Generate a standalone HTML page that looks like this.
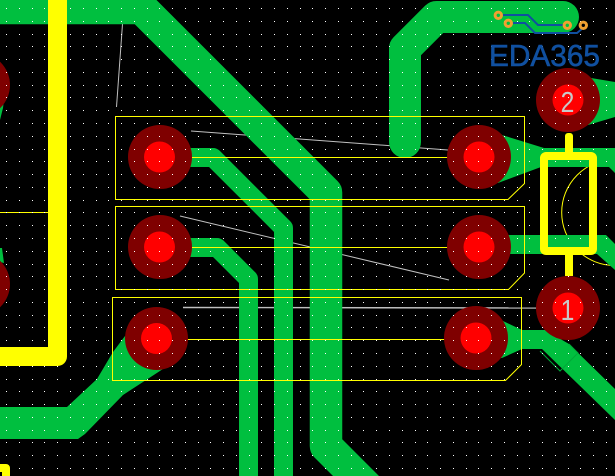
<!DOCTYPE html>
<html><head><meta charset="utf-8"><style>
html,body{margin:0;padding:0;background:#000;width:615px;height:476px;overflow:hidden}
svg{display:block}
</style></head><body>
<svg width="615" height="476" viewBox="0 0 615 476" xmlns="http://www.w3.org/2000/svg">
<defs>
<path id="r" fill="#fff" shape-rendering="crispEdges" d="M6 0h1v1h-1zM19 0h1v1h-1zM32 0h1v1h-1zM44 0h1v1h-1zM57 0h1v1h-1zM70 0h1v1h-1zM83 0h1v1h-1zM96 0h1v1h-1zM108 0h1v1h-1zM121 0h1v1h-1zM134 0h1v1h-1zM147 0h1v1h-1zM159 0h1v1h-1zM172 0h1v1h-1zM185 0h1v1h-1zM198 0h1v1h-1zM210 0h1v1h-1zM223 0h1v1h-1zM236 0h1v1h-1zM249 0h1v1h-1zM261 0h1v1h-1zM274 0h1v1h-1zM287 0h1v1h-1zM300 0h1v1h-1zM312 0h1v1h-1zM325 0h1v1h-1zM338 0h1v1h-1zM351 0h1v1h-1zM363 0h1v1h-1zM376 0h1v1h-1zM389 0h1v1h-1zM402 0h1v1h-1zM415 0h1v1h-1zM427 0h1v1h-1zM440 0h1v1h-1zM453 0h1v1h-1zM466 0h1v1h-1zM478 0h1v1h-1zM491 0h1v1h-1zM504 0h1v1h-1zM517 0h1v1h-1zM529 0h1v1h-1zM542 0h1v1h-1zM555 0h1v1h-1zM568 0h1v1h-1zM580 0h1v1h-1zM593 0h1v1h-1zM606 0h1v1h-1z"/>
</defs>
<rect width="615" height="476" fill="#000"/>
<!-- ratlines and arc below copper -->
<g fill="none" stroke="#c0c0c0" stroke-width="1">
<path d="M122.5 24L116.5 107"/>
<path d="M191 131L448 150"/>
<path d="M180 216L449 280"/>
<path d="M183 307.5L568 308" stroke-width="1.4"/>
</g>
<circle cx="614.7" cy="212.5" r="53" fill="none" stroke="#ffff00" stroke-width="1"/>
<!-- copper -->
<g fill="none" stroke="#00bf3f" stroke-linejoin="round" stroke-linecap="butt">
<path d="M-5 8H141.5L326 192.5V446L376 496" stroke-width="32.5"/>
<path d="M159 157.5H213L283.5 228V480" stroke-width="19"/>
<path d="M159 247.5H217L248.5 279V480" stroke-width="19"/>
<path d="M405 142V48.5L436.5 17H563" stroke-width="32" stroke-linecap="round"/>
</g>
<g fill="#00bf3f">
<polygon points="125,336 113,352 97,379 67,407 0,407 0,439 78,439 85,434 123,395 163,369"/>
<polygon points="479,135 502,135 544,148 615,148 615,173 609,167 541,167 498,183 479,183"/>
<polygon points="568,78 591,78 615,82 615,117 588,125 568,125"/>
<polygon points="507,235 606,235 615,244 615,270 597,254 507,254"/>
<polygon points="476,321 503,321 522,330 545,330 569,344 615,389 615,420 542,349 522,349 502,358 476,358"/>
<polygon points="0,120 0,100 4,100 3,108"/>
<polygon points="0,248 2,248 4,263 0,262"/>
</g>
<path d="M540 351L560 371L578 353L569 344" fill="none" stroke="#00a838" stroke-width="1"/>
<!-- thin outlines -->
<g fill="none" stroke="#ffff00" stroke-width="1">
<path d="M115.5 116.5H524.5V183.5L508 199.5H115.5Z"/>
<path d="M115.5 206.5H524.5V273L508.5 289.5H115.5Z"/>
<path d="M112.5 297.5H521.5V364.5L505.5 380.5H112.5Z"/>
<path d="M159 157.5H479M159 247.5H479M156 339.5H476M0 212.5H48"/>
</g>
<!-- pads -->
<g fill="#7f0000">
<circle cx="160" cy="157" r="32"/><circle cx="160" cy="247" r="32"/><circle cx="156.5" cy="338.5" r="31.5"/>
<circle cx="479" cy="157" r="32"/><circle cx="479" cy="247" r="32"/><circle cx="476" cy="338" r="32"/>
<circle cx="568" cy="100" r="32"/><circle cx="568" cy="308" r="32"/>
<circle cx="-22" cy="85" r="32"/><circle cx="-22" cy="284" r="32"/>
</g>
<g fill="#ff0000">
<circle cx="159.5" cy="157" r="15.5"/><circle cx="159.5" cy="247" r="15.5"/><circle cx="156.5" cy="338.5" r="15.5"/>
<circle cx="479" cy="157" r="15.5"/><circle cx="479" cy="247" r="15.5"/><circle cx="476" cy="338" r="15.5"/>
<circle cx="568" cy="100" r="15.5"/><circle cx="568" cy="308" r="15.5"/>
</g>
<!-- grid dots -->
<use href="#r" y="8"/><use href="#r" y="21"/><use href="#r" y="34"/><use href="#r" y="46"/><use href="#r" y="59"/><use href="#r" y="72"/><use href="#r" y="85"/><use href="#r" y="97"/><use href="#r" y="110"/><use href="#r" y="123"/><use href="#r" y="136"/><use href="#r" y="149"/><use href="#r" y="161"/><use href="#r" y="174"/><use href="#r" y="187"/><use href="#r" y="200"/><use href="#r" y="212"/><use href="#r" y="225"/><use href="#r" y="238"/><use href="#r" y="251"/><use href="#r" y="264"/><use href="#r" y="276"/><use href="#r" y="289"/><use href="#r" y="302"/><use href="#r" y="315"/><use href="#r" y="327"/><use href="#r" y="340"/><use href="#r" y="353"/><use href="#r" y="366"/><use href="#r" y="379"/><use href="#r" y="391"/><use href="#r" y="404"/><use href="#r" y="417"/><use href="#r" y="430"/><use href="#r" y="442"/><use href="#r" y="455"/><use href="#r" y="468"/>
<!-- thick silk -->
<g fill="none" stroke="#ffff00" stroke-linejoin="round">
<path d="M-5 356.5H57.5V-5" stroke-width="19"/>
<rect x="544" y="156" width="49" height="95" rx="2" stroke-width="8"/>
<path d="M569 137V152M569 255V276" stroke-width="8"/>
<path d="M-5 468H6V480" stroke-width="8"/>
</g>
<rect x="565" y="133" width="8" height="8" rx="3" fill="#ffff00"/>
<g font-family="'Liberation Sans',sans-serif" font-size="29" fill="#c8c8c8" text-anchor="middle">
<text transform="translate(567.5 112) scale(.85 1)">2</text>
<text transform="translate(567.5 320) scale(.85 1)">1</text>
</g>
<!-- logo -->
<text x="489" y="66" font-family="'Liberation Sans',sans-serif" font-size="31" fill="#1050a0" stroke="#1050a0" stroke-width=".6" textLength="111" lengthAdjust="spacingAndGlyphs">EDA365</text>
<g fill="none" stroke="#1050a0" stroke-width="2">
<path d="M503 15H528L538 25H563"/>
<path d="M513 23H525L535 33H577L583 28"/>
</g>
<g fill="none" stroke="#f0a030" stroke-width="3">
<circle cx="498.3" cy="15.3" r="3.2"/><circle cx="508.3" cy="23.3" r="3.2"/>
<circle cx="567.3" cy="25.3" r="3.2"/><circle cx="583.3" cy="25.3" r="3.2"/>
</g>
</svg>
</body></html>
